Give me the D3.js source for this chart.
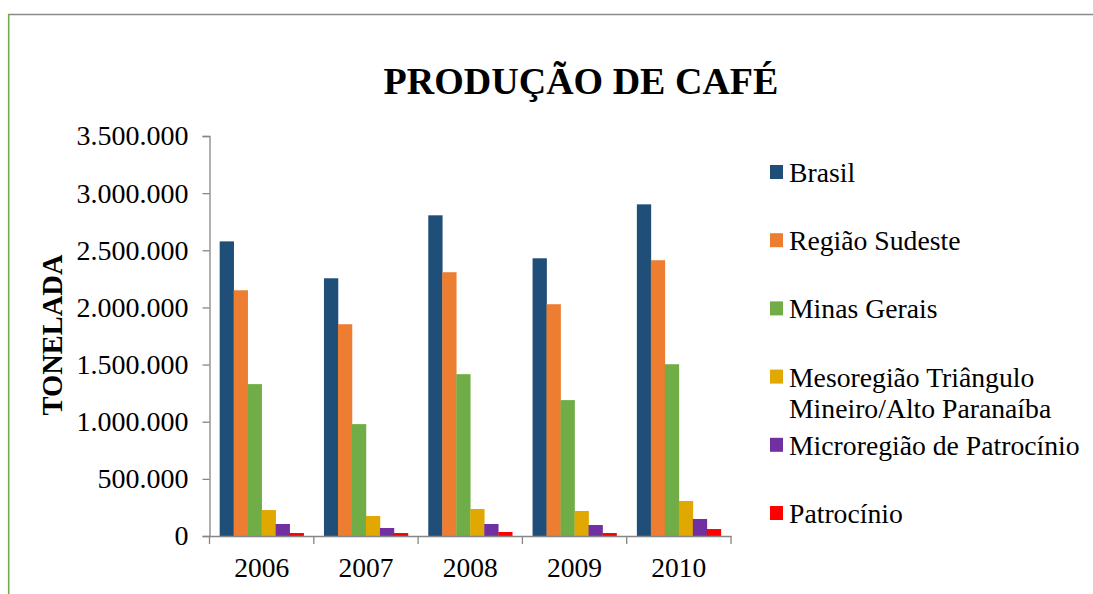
<!DOCTYPE html>
<html>
<head>
<meta charset="utf-8">
<script src="https://cdn.jsdelivr.net/npm/d3@7/dist/d3.min.js"></script>
<style>
  html, body { margin: 0; padding: 0; background: #ffffff; }
  svg { display: block; }
</style>
</head>
<body>
<svg id="chart" width="1093" height="594"></svg>
<script>
// ---- data ----
const years = ["2006", "2007", "2008", "2009", "2010"];
const seriesNames = [
  "Brasil",
  "Região Sudeste",
  "Minas Gerais",
  "Mesoregião Triângulo Mineiro/Alto Paranaíba",
  "Microregião de Patrocínio",
  "Patrocínio"
];
const brasil      = [2578000, 2255000, 2806000, 2430000, 2902000];
const sudeste     = [2150000, 1853000, 2308000, 2028000, 2413000];
const minasGerais = [1329000,  979000, 1416000, 1189000, 1503000];
const mesoregiao  = [ 227000,  175000,  236000,  219000,  306000];
const microregiao = [ 105000,   70000,  105000,   96000,  149000];
const patrocinio  = [  26000,   26000,   35000,   26000,   61000];
const seriesValues = [brasil, sudeste, minasGerais, mesoregiao, microregiao, patrocinio];
const seriesColors = ["#1F4E79", "#ED7D31", "#70AD47", "#E0A800", "#7030A0", "#FF0000"];
const yTicks = [0, 500000, 1000000, 1500000, 2000000, 2500000, 3000000, 3500000];
const legendLines = [
  ["Brasil"],
  ["Região Sudeste"],
  ["Minas Gerais"],
  ["Mesoregião Triângulo", "Mineiro/Alto Paranaíba"],
  ["Microregião de Patrocínio"],
  ["Patrocínio"]
];
const titleText = "PRODUÇÃO DE CAFÉ";
const yTitle = "TONELADA";

// ---- layout ----
const FONT = "Liberation Serif, Times New Roman, serif";
const svg = d3.select("#chart");
const plot = { left: 209.5, right: 731, top: 136, bottom: 536 };
const axisColor = "#868686";
const fmt = v => d3.format(",")(v).replace(/,/g, ".");

// frame
svg.append("line").attr("x1", 8).attr("x2", 1093).attr("y1", 14.5).attr("y2", 14.5)
  .attr("stroke", "#8a8a8a").attr("stroke-width", 1.6);
svg.append("line").attr("x1", 8.7).attr("x2", 8.7).attr("y1", 14).attr("y2", 594)
  .attr("stroke", "#70AD47").attr("stroke-width", 1.6);

// title
svg.append("text").attr("x", 581).attr("y", 94).attr("text-anchor", "middle")
  .attr("font-family", FONT).attr("fill", "#000")
  .attr("font-size", 38).attr("font-weight", "bold").text(titleText);

// scales
const pad = 0.195;
const x0 = d3.scaleBand().domain(years).range([plot.left, plot.right])
  .paddingInner(pad).paddingOuter(pad / 2);
const x1 = d3.scaleBand().domain(d3.range(seriesNames.length)).range([0, x0.bandwidth()]);
const y = d3.scaleLinear().domain([0, 3500000]).range([plot.bottom, plot.top]);

// bars
const groups = svg.append("g").selectAll("g").data(years).join("g")
  .attr("transform", d => `translate(${x0(d)},0)`);
groups.selectAll("rect")
  .data((d, i) => seriesValues.map((vals, s) => ({ s, v: vals[i] })))
  .join("rect")
  .attr("x", d => x1(d.s))
  .attr("width", x1.bandwidth() + 0.3)
  .attr("y", d => y(d.v))
  .attr("height", d => y(0) - y(d.v))
  .attr("fill", d => seriesColors[d.s]);

// y axis
const yAxis = svg.append("g").attr("transform", `translate(${plot.left},0)`)
  .call(d3.axisLeft(y).tickValues(yTicks).tickFormat(fmt).tickSize(7).tickPadding(14));
yAxis.attr("font-family", FONT);
yAxis.select(".domain").attr("stroke", axisColor).attr("stroke-width", 1.3);
yAxis.selectAll(".tick line").attr("stroke", axisColor).attr("stroke-width", 1.3);
yAxis.selectAll(".tick text").attr("font-size", 28)
  .attr("font-family", FONT).attr("fill", "#000");

// x axis
const xAxis = svg.append("g").attr("transform", `translate(0,${plot.bottom})`)
  .call(d3.axisBottom(x0).tickSize(0).tickSizeOuter(0));
xAxis.attr("font-family", FONT);
xAxis.select(".domain").attr("stroke", axisColor).attr("stroke-width", 1.3);
xAxis.selectAll(".tick text").attr("font-size", 27.5).attr("dy", 0).attr("y", 41)
  .attr("font-family", FONT).attr("fill", "#000");
const boundaries = years.map(d => x0(d) - x0.step() * pad / 2).concat([plot.right]);
xAxis.selectAll(".bound").data(boundaries).join("line").attr("class", "bound")
  .attr("x1", d => d).attr("x2", d => d).attr("y1", 0).attr("y2", 8)
  .attr("stroke", axisColor).attr("stroke-width", 1.3);

// y title
svg.append("text").attr("transform", "translate(62,335) rotate(-90)")
  .attr("text-anchor", "middle").attr("font-size", 28.5).attr("font-weight", "bold")
  .attr("font-family", FONT).attr("fill", "#000")
  .text(yTitle);

// legend
const legend = svg.append("g");
const lg = legend.selectAll("g").data(legendLines).join("g")
  .attr("transform", (d, i) => `translate(770,${172 + i * 68.2})`);
lg.append("rect").attr("x", 0).attr("y", -7).attr("width", 13).attr("height", 14)
  .attr("fill", (d, i) => seriesColors[i]);
lg.each(function (lines) {
  const t = d3.select(this).append("text").attr("x", 19).attr("y", 10)
    .attr("font-size", 27.7).attr("font-family", FONT).attr("fill", "#000");
  lines.forEach((ln, k) => {
    t.append("tspan").attr("x", 19).attr("dy", k === 0 ? 0 : 31).text(ln);
  });
});
</script>
</body>
</html>
